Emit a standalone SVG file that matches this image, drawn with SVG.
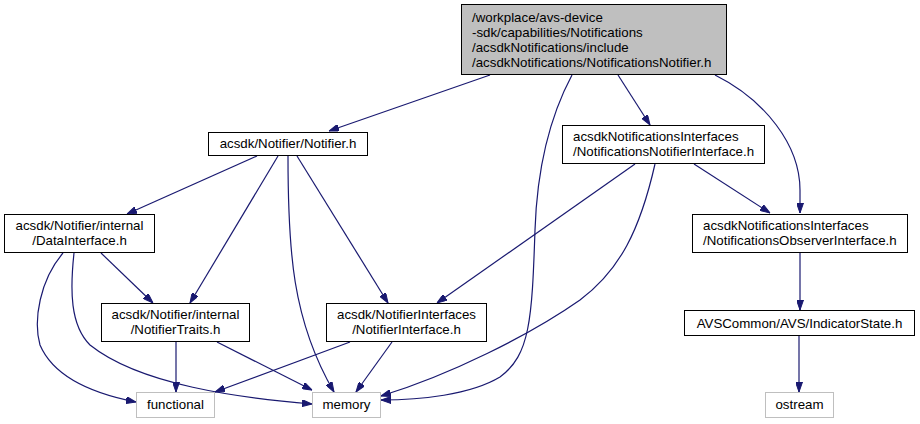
<svg xmlns="http://www.w3.org/2000/svg" width="920" height="424" viewBox="0 0 920 424">
<style>
.n rect{fill:#fff;stroke:#000;stroke-width:1}
.g rect{fill:#fff;stroke:#bfbfbf;stroke-width:1}
.root rect{fill:#bfbfbf;stroke:#000;stroke-width:1}
text{font-family:"Liberation Sans",Arial,sans-serif;font-size:13.3px;fill:#000}
.c{text-anchor:middle}
#edges path{fill:none;stroke:#191970;stroke-width:1.2;marker-end:url(#ah)}
</style>
<defs>
<marker id="ah" viewBox="0 0 10 7" refX="10" refY="3.5" markerWidth="10" markerHeight="7" markerUnits="userSpaceOnUse" orient="auto">
<path d="M0,0 L10,3.5 L0,7 z" fill="#191970" stroke="#191970"/>
</marker>
</defs>
<rect width="920" height="424" fill="#fff"/>
<g id="edges">
<path d="M490,75 L329,131"/>
<path d="M618,75 L650,125"/>
<path d="M572,75 C548,120 537,170 535,230 C532,320 530,355 500,377 C470,395 420,400 381,400"/>
<path d="M715,75 C765,100 800,145 800,190 L800,213"/>
<path d="M257,156 L127,214"/>
<path d="M278,156 L190,303"/>
<path d="M288,156 C288,250 292,320 334,392"/>
<path d="M297,156 L388,303"/>
<path d="M635,164 L437,303"/>
<path d="M694,164 L770,213"/>
<path d="M101,253 L153,303"/>
<path d="M63,253 C40,280 33,320 40,345 C55,380 100,395 136,402"/>
<path d="M74,253 C70,290 70,325 90,345 C140,385 240,398 312,404"/>
<path d="M176,342 L176,392"/>
<path d="M217,342 L312,390"/>
<path d="M350,342 L215,392"/>
<path d="M392,342 L356,392"/>
<path d="M655,164 C640,230 620,270 580,300 C530,335 450,375 381,396"/>
<path d="M800,253 L800,310"/>
<path d="M799,336 L799,392"/>
</g>
<g id="root" class="root">
<rect x="461.5" y="4.5" width="265" height="70"/>
<text x="472" y="22">/workplace/avs-device</text>
<text x="472" y="37">-sdk/capabilities/Notifications</text>
<text x="472" y="52">/acsdkNotifications/include</text>
<text x="472" y="67">/acsdkNotifications/NotificationsNotifier.h</text>
</g>
<g id="notifier" class="n">
<rect x="208.5" y="132.5" width="159" height="23"/>
<text class="c" x="288" y="148">acsdk/Notifier/Notifier.h</text>
</g>
<g id="nni" class="n">
<rect x="562.5" y="125.5" width="202" height="38"/>
<text x="573" y="141">acsdkNotificationsInterfaces</text>
<text x="573" y="156">/NotificationsNotifierInterface.h</text>
</g>
<g id="datainterface" class="n">
<rect x="4.5" y="214.5" width="150" height="38"/>
<text class="c" x="79.5" y="230">acsdk/Notifier/internal</text>
<text class="c" x="79.5" y="245">/DataInterface.h</text>
</g>
<g id="observer" class="n">
<rect x="692.5" y="214.5" width="215" height="38"/>
<text x="703" y="230">acsdkNotificationsInterfaces</text>
<text x="703" y="245">/NotificationsObserverInterface.h</text>
</g>
<g id="traits" class="n">
<rect x="101.5" y="303.5" width="148" height="38"/>
<text class="c" x="175.5" y="319">acsdk/Notifier/internal</text>
<text class="c" x="175.5" y="334">/NotifierTraits.h</text>
</g>
<g id="notifierinterface" class="n">
<rect x="326.5" y="303.5" width="160" height="38"/>
<text class="c" x="406.5" y="319">acsdk/NotifierInterfaces</text>
<text class="c" x="406.5" y="334">/NotifierInterface.h</text>
</g>
<g id="indicator" class="n">
<rect x="684.5" y="310.5" width="230" height="25"/>
<text class="c" x="799.5" y="328">AVSCommon/AVS/IndicatorState.h</text>
</g>
<g id="functional" class="g">
<rect x="136.5" y="392.5" width="78" height="25"/>
<text class="c" x="175.5" y="409">functional</text>
</g>
<g id="memory" class="g">
<rect x="312.5" y="392.5" width="68" height="25"/>
<text class="c" x="346.5" y="409">memory</text>
</g>
<g id="ostream" class="g">
<rect x="765.5" y="392.5" width="68" height="25"/>
<text class="c" x="799.5" y="409">ostream</text>
</g>
</svg>
